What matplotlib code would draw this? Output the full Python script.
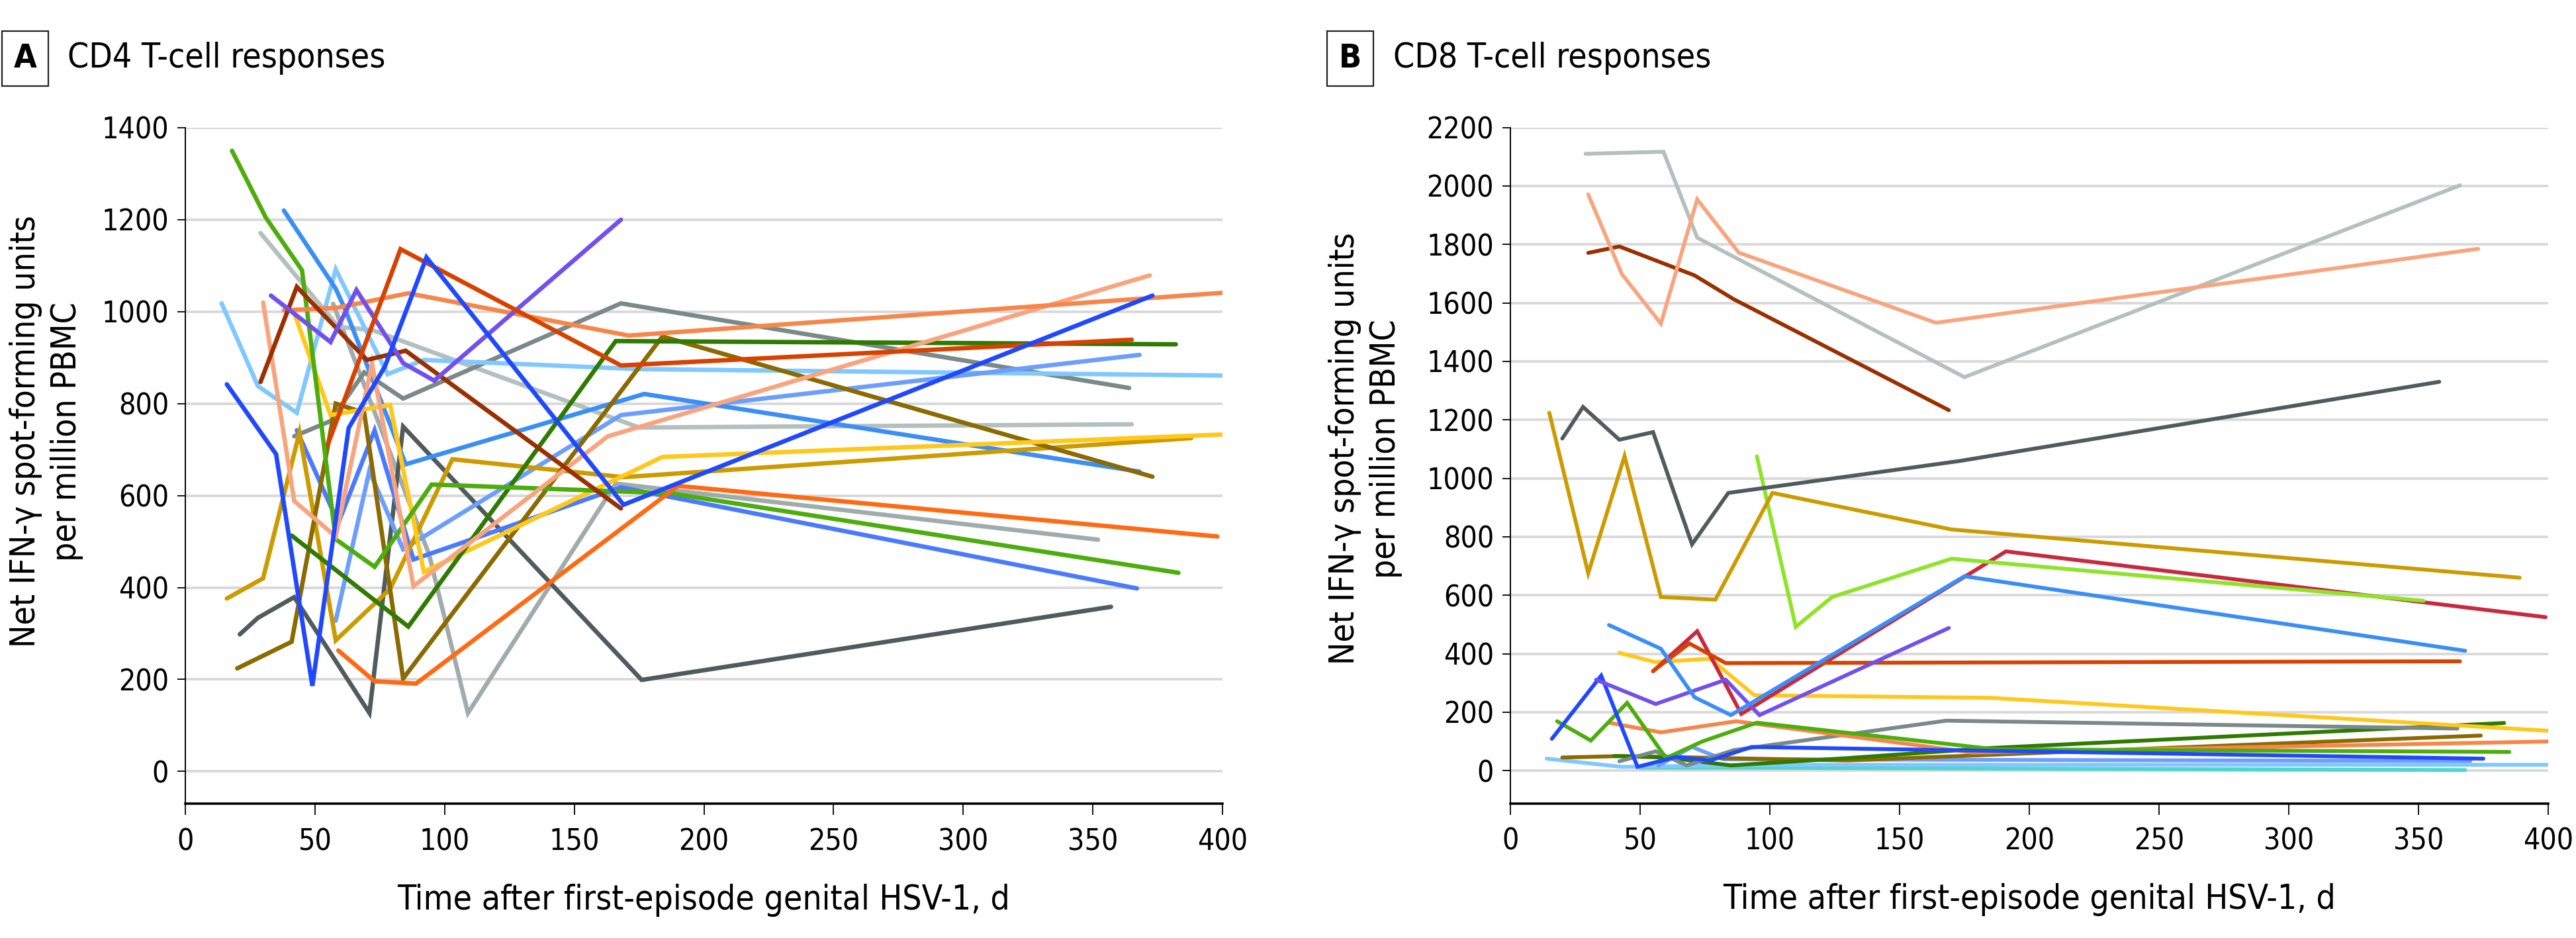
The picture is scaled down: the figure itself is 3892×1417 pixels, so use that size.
import matplotlib
matplotlib.use("Agg")
import matplotlib.pyplot as plt
from matplotlib import font_manager

# condensed face, like the journal figure
names = {f.name for f in font_manager.fontManager.ttflist}
if 'Liberation Sans Narrow' in names:
    plt.rcParams['font.family'] = ['Liberation Sans Narrow', 'DejaVu Sans']
else:
    plt.rcParams['font.family'] = ['DejaVu Sans']
    plt.rcParams['font.stretch'] = 'condensed'

# ---------------- data: panel A (CD4) ----------------
a_green_x = [18, 31, 45, 58, 73, 95, 187, 383]
a_green_y = [1350, 1205, 1090, 505, 445, 624, 605, 432]
a_sky_x = [14, 28, 43, 58, 78, 92, 175, 401]
a_sky_y = [1018, 838, 780, 1092, 864, 895, 875, 861]
a_midblue_x = [38, 58, 62, 85, 177, 368]
a_midblue_y = [1220, 1050, 1000, 668, 821, 652]
a_silver_x = [29, 59, 72, 175, 365]
a_silver_y = [1171, 967, 960, 748, 755]
a_rust_x = [29, 43, 70, 85, 168]
a_rust_y = [847, 1054, 895, 915, 572]
a_purple_x = [33, 56, 66, 84, 96, 168]
a_purple_y = [1035, 934, 1047, 888, 850, 1200]
a_coral_x = [38, 58, 86, 171, 400]
a_coral_y = [1003, 1008, 1040, 948, 1041]
a_verm_x = [55, 83, 168, 365]
a_verm_y = [712, 1136, 883, 939]
a_bblue_x = [16, 35, 49, 63, 77, 93, 169, 373]
a_bblue_y = [842, 690, 186, 747, 881, 1118, 580, 1035]
a_salmon_x = [30, 42, 58, 72, 88, 163, 372]
a_salmon_y = [1020, 588, 511, 886, 403, 729, 1079]
a_slate_x = [21, 28, 42, 71, 84, 176, 357]
a_slate_y = [298, 334, 379, 127, 750, 199, 358]
a_mustard_x = [16, 30, 44, 58, 79, 103, 169, 388]
a_mustard_y = [376, 420, 737, 285, 397, 679, 640, 725]
a_brown_x = [20, 41, 58, 69, 84, 184, 373]
a_brown_y = [224, 282, 800, 780, 202, 946, 641]
a_yellow_x = [42, 56, 79, 92, 184, 401]
a_yellow_y = [997, 775, 797, 434, 684, 733]
a_dgreen_x = [41, 86, 166, 382]
a_dgreen_y = [513, 315, 936, 929]
a_royal_x = [43, 59, 73, 88, 105, 168, 367]
a_royal_y = [742, 540, 742, 461, 494, 618, 398]
a_peri_x = [58, 71, 84, 168, 368]
a_peri_y = [328, 654, 483, 775, 906]
a_teal_x = [42, 56, 69, 84, 168, 364]
a_teal_y = [729, 762, 868, 811, 1018, 834]
a_gray2_x = [57, 94, 109, 166, 352]
a_gray2_y = [1017, 472, 127, 626, 504]
a_orange_x = [59, 73, 89, 190, 398]
a_orange_y = [263, 196, 191, 621, 511]

# ---------------- data: panel B (CD8) ----------------
b_silver_x = [29, 59, 72, 175, 366]
b_silver_y = [2110, 2117, 1823, 1346, 2002]
b_salmon_x = [30, 43, 58, 72, 88, 164, 373]
b_salmon_y = [1971, 1698, 1529, 1954, 1772, 1532, 1785]
b_rust_x = [30, 42, 71, 86, 169]
b_rust_y = [1771, 1793, 1694, 1613, 1233]
b_slate_x = [20, 28, 42, 55, 70, 84, 173, 358]
b_slate_y = [1136, 1244, 1132, 1158, 774, 950, 1059, 1330]
b_mustard_x = [15, 30, 44, 58, 79, 101, 170, 389]
b_mustard_y = [1224, 675, 1076, 594, 585, 950, 825, 660]
b_lime_x = [95, 110, 124, 170, 352]
b_lime_y = [1075, 492, 594, 725, 581]
b_crimson_x = [55, 72, 89, 191, 399]
b_crimson_y = [340, 477, 194, 750, 525]
b_midblue_x = [38, 58, 71, 85, 175, 368]
b_midblue_y = [498, 417, 251, 190, 665, 410]
b_purple_x = [33, 56, 83, 96, 169]
b_purple_y = [311, 228, 311, 190, 488]
b_yellow_x = [42, 56, 77, 94, 185, 401]
b_yellow_y = [403, 371, 383, 258, 249, 136]
b_verm_x = [55, 69, 83, 366]
b_verm_y = [341, 435, 368, 374]
b_bblue_x = [16, 35, 49, 64, 77, 93, 375]
b_bblue_y = [109, 325, 13, 47, 35, 81, 41]
b_green_x = [18, 31, 45, 60, 74, 95, 187, 385]
b_green_y = [169, 103, 232, 43, 100, 164, 73, 64]
b_coral_x = [38, 58, 87, 178, 401]
b_coral_y = [164, 131, 169, 62, 100]
b_teal_x = [42, 56, 68, 86, 168, 365]
b_teal_y = [32, 66, 18, 70, 171, 144]
b_dgreen_x = [40, 60, 85, 130, 184, 383]
b_dgreen_y = [50, 45, 18, 43, 77, 163]
b_brown_x = [20, 43, 70, 130, 374]
b_brown_y = [45, 50, 45, 35, 120]
b_sky_x = [14, 43, 100, 401]
b_sky_y = [41, 13, 20, 20]
b_peri_x = [57, 70, 82, 370]
b_peri_y = [17, 81, 39, 33]
b_turq_x = [50, 90, 368]
b_turq_y = [10, 10, 2]

x_ticks = [0, 50, 100, 150, 200, 250, 300, 350, 400]
a_yticks = list(range(0, 1401, 200))
b_yticks = list(range(0, 2201, 200))

colors = {
    'green': '#4cad0c', 'sky': '#80c8ff', 'midblue': '#3a8ef6', 'silver': '#b3c0bd',
    'rust': '#9a2f00', 'purple': '#7150ee', 'coral': '#f7864a', 'verm': '#d94100',
    'bblue': '#1f48ff', 'salmon': '#f8a57f', 'slate': '#505b5d', 'mustard': '#cc9b00',
    'brown': '#8b6a00', 'yellow': '#ffc81c', 'dgreen': '#2f7a00', 'royal': '#4a7aff',
    'peri': '#6c9eff', 'teal': '#798a88', 'gray2': '#a0acab', 'orange': '#ff6a14',
    'lime': '#8fe329', 'crimson': '#c9293e', 'turq': '#4fd6cf',
}

a_series = [
    ('gray2', a_gray2_x, a_gray2_y), ('silver', a_silver_x, a_silver_y),
    ('teal', a_teal_x, a_teal_y), ('slate', a_slate_x, a_slate_y),
    ('sky', a_sky_x, a_sky_y), ('peri', a_peri_x, a_peri_y),
    ('royal', a_royal_x, a_royal_y), ('midblue', a_midblue_x, a_midblue_y),
    ('mustard', a_mustard_x, a_mustard_y), ('brown', a_brown_x, a_brown_y),
    ('yellow', a_yellow_x, a_yellow_y), ('dgreen', a_dgreen_x, a_dgreen_y),
    ('green', a_green_x, a_green_y), ('orange', a_orange_x, a_orange_y),
    ('salmon', a_salmon_x, a_salmon_y), ('coral', a_coral_x, a_coral_y),
    ('rust', a_rust_x, a_rust_y), ('purple', a_purple_x, a_purple_y),
    ('verm', a_verm_x, a_verm_y), ('bblue', a_bblue_x, a_bblue_y),
]
b_series = [
    ('turq', b_turq_x, b_turq_y), ('sky', b_sky_x, b_sky_y),
    ('peri', b_peri_x, b_peri_y), ('brown', b_brown_x, b_brown_y),
    ('dgreen', b_dgreen_x, b_dgreen_y), ('teal', b_teal_x, b_teal_y),
    ('coral', b_coral_x, b_coral_y), ('green', b_green_x, b_green_y),
    ('bblue', b_bblue_x, b_bblue_y), ('yellow', b_yellow_x, b_yellow_y),
    ('crimson', b_crimson_x, b_crimson_y), ('verm', b_verm_x, b_verm_y),
    ('purple', b_purple_x, b_purple_y), ('midblue', b_midblue_x, b_midblue_y),
    ('lime', b_lime_x, b_lime_y), ('mustard', b_mustard_x, b_mustard_y),
    ('slate', b_slate_x, b_slate_y), ('rust', b_rust_x, b_rust_y),
    ('silver', b_silver_x, b_silver_y), ('salmon', b_salmon_x, b_salmon_y),
]

TICK_FS = 32
LABEL_FS = 37

fig = plt.figure(figsize=(38.92, 14.17), dpi=100)


def style_axis(ax, yticks, ylo, ytop):
    ax.set_xlim(0, 400)
    ax.set_ylim(ylo, ytop)
    for y in yticks:
        ax.plot([0, 400], [y, y], color='#d9d9d9', lw=2.8, zorder=0, solid_capstyle='butt')
    ax.spines['top'].set_visible(False)
    ax.spines['right'].set_visible(False)
    ax.spines['left'].set_linewidth(1.4)
    ax.spines['bottom'].set_linewidth(2.6)
    ax.spines['left'].set_bounds(ylo, ytop)
    ax.set_xticks(x_ticks)
    ax.set_yticks(yticks)
    ax.tick_params(axis='x', direction='out', length=12, width=1.3, labelsize=TICK_FS, pad=14)
    ax.tick_params(axis='y', direction='out', length=9, width=1.3, labelsize=TICK_FS, pad=9)
    ax.set_xlabel('Time after first-episode genital HSV-1, d', fontsize=LABEL_FS, labelpad=30)


def panel_title(x_box, x_text, letter, text):
    fig.text(x_box, 1 - 88 / 1417, letter, fontsize=36, fontweight='bold', ha='center', va='center',
             bbox=dict(boxstyle='square,pad=0.35', fc='white', ec='#222222', lw=1.6))
    fig.text(x_text, 1 - 88 / 1417, text, fontsize=LABEL_FS, ha='left', va='center')


ylab = 'Net IFN-γ spot-forming units\nper million PBMC'

axA = fig.add_axes([280 / 3892, 0.1433, (1847 - 280) / 3892, 0.8638 - 0.1433])
style_axis(axA, a_yticks, -70, 1400)
for key, xs, ys in a_series:
    axA.plot(xs, ys, color=colors[key], lw=4.8, solid_capstyle='round', solid_joinstyle='miter', zorder=2)
fig.text(70 / 3892, 1 - 652 / 1417, ylab, rotation=90, fontsize=LABEL_FS, ha='center', va='center',
         multialignment='center', linespacing=1.3)
panel_title(38 / 3892, 102 / 3892, 'A', 'CD4 T-cell responses')

axB = fig.add_axes([2282 / 3892, 0.1435, (3850 - 2282) / 3892, 0.8641 - 0.1435])
style_axis(axB, b_yticks, -112, 2200)
for key, xs, ys in b_series:
    axB.plot(xs, ys, color=colors[key], lw=4.2, solid_capstyle='round', solid_joinstyle='miter', zorder=2)
fig.text(2063 / 3892, 1 - 678 / 1417, ylab, rotation=90, fontsize=LABEL_FS, ha='center', va='center',
         multialignment='center', linespacing=1.3)
panel_title(2040 / 3892, 2105 / 3892, 'B', 'CD8 T-cell responses')

fig.savefig('out.png', dpi=100, facecolor='white')
